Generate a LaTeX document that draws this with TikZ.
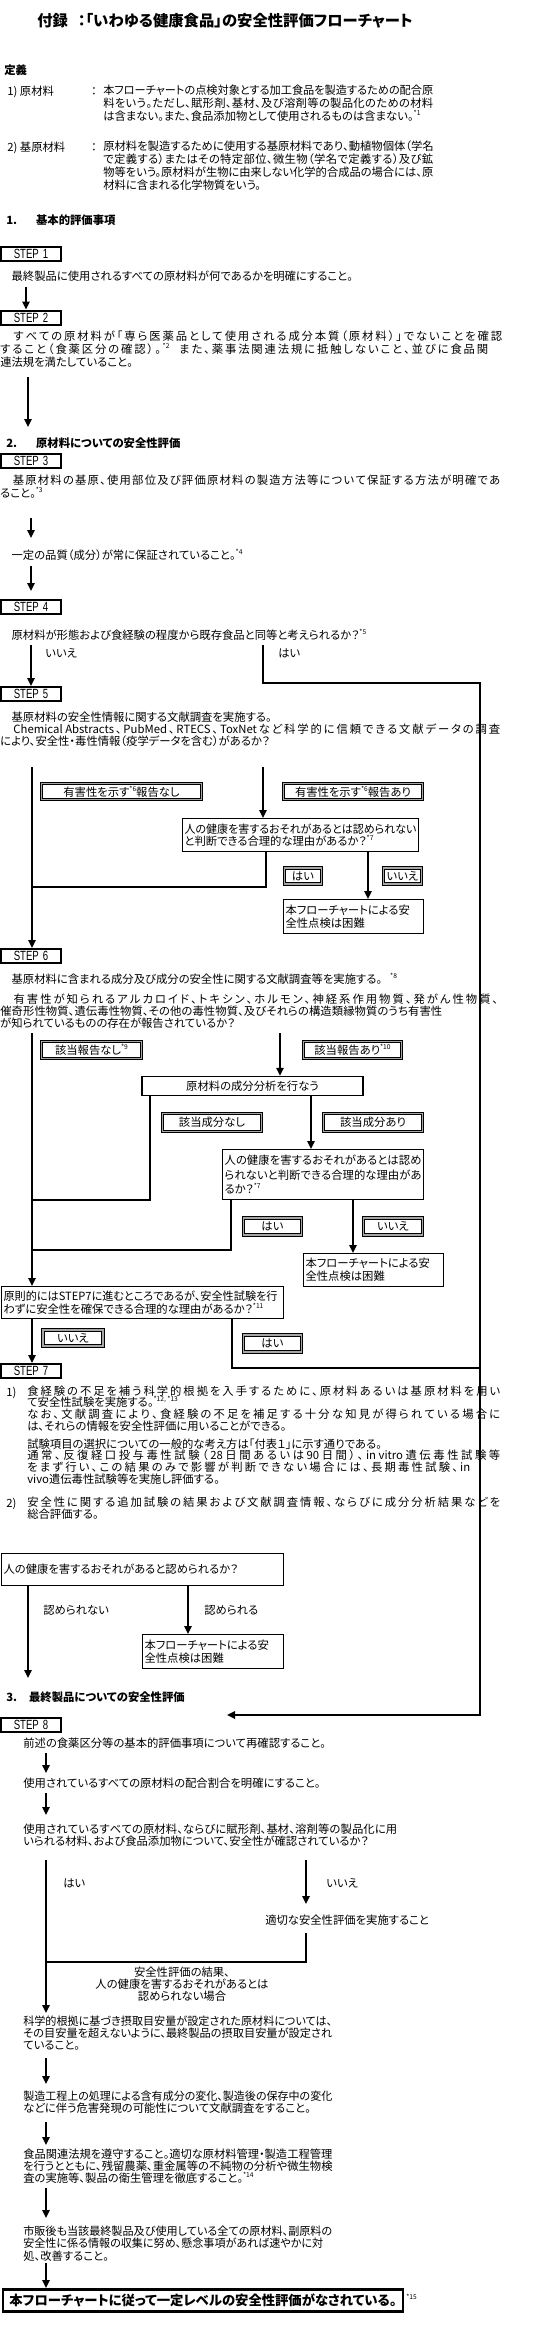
\documentclass[tikz,border=0pt]{standalone}
\usepackage{fontspec}
\usepackage{graphicx}
\setmainfont{Noto Sans CJK JP}[RawFeature=+palt]
\newfontfamily\stepfont{Liberation Sans}[FakeStretch=0.72]
\usepackage{tikz}
\usetikzlibrary{arrows.meta,positioning,shadows}
\newdimen\pxu \pxu=0.75pt
\newcommand\pu{0.75pt}
\newlength\jlw
\newcommand\topstrut{\rule{0pt}{11\pxu}}
\newcommand\fsz[1]{\fontsize{8.5}{#1}\selectfont}
\newcommand\fn[1]{\raisebox{0.45em}{\fontsize{5}{5}\selectfont *#1}}
\ExplSyntaxOn
\NewDocumentCommand\jl{mm}{\leavevmode
  \settowidth\jlw{#2}
  \ifdim\jlw>#1\pxu~\resizebox{#1\pxu}{\height}{#2}
  \else~\hbox~to~#1\pxu{\tl_map_inline:nn{#2}{##1\hskip~0pt~plus~1fil}\unskip}\fi}
\ExplSyntaxOff
\lineskiplimit=-20pt

\begin{document}
\begin{tikzpicture}[x=0.75pt, y=-0.75pt,
  txt/.style={anchor=north west, yshift=5pt, inner sep=0pt, align=left,
    font=\fsz{9.4pt}, execute at begin node=\topstrut},
  hdg/.style={txt, font=\fsz{9.4pt}\bfseries},
  stepbox/.style={draw, line width=1.5pt, fill=white, minimum width=60*\pu,
    minimum height=14*\pu, inner sep=0pt, font=\stepfont\fontsize{10}{10}\selectfont,
    drop shadow={shadow xshift=1pt, shadow yshift=-1pt, fill=black!45, opacity=1}},
  lbl/.style={draw, line width=0.6pt, double=black!35, double distance=1.1pt,
    minimum height=16*\pu, inner sep=0pt, font=\fsz{9pt}},
  qbox/.style={draw, line width=0.8pt, anchor=north west, align=left,
    inner xsep=2*\pu, inner ysep=0pt, font=\fsz{10pt}},
  ln/.style={line width=1.6pt},
  arr/.style={ln, -{Triangle[width=5.5pt,length=6pt]}}
]
\useasboundingbox (0,0) rectangle (540,2326);

\node[txt, font=\fontsize{11.5}{12}\selectfont\bfseries] (title) at (37,20)
  {付録\hspace{10\pxu}：「いわゆる健康食品」の安全性評価フローチャート};
\node[hdg] (defs) at (4,70) {定義};
\node[txt] (d1no) at (7,91) {1) 原材料};
\node[txt] (d1c) at (91,91) {：};
\node[txt, font=\fsz{9.75pt}] (d1) at (103,91)
  {\jl{330}{本フローチャートの点検対象とする加工食品を製造するための配合原}\\
   \jl{330}{料をいう。ただし、賦形剤、基材、及び溶剤等の製品化のための材料}\\
   は含まない。また、食品添加物として使用されるものは含まない。\fn{1}};
\node[txt] (d2no) at (7,147) {2) 基原材料};
\node[txt] (d2c) at (91,147) {：};
\node[txt, font=\fsz{9.75pt}] (d2) at (103,147)
  {\jl{330}{原材料を製造するために使用する基原材料であり、動植物個体（学名}\\
   \jl{330}{で定義する）またはその特定部位、微生物（学名で定義する）及び鉱}\\
   \jl{330}{物等をいう。原材料が生物に由来しない化学的合成品の場合には、原}\\
   材料に含まれる化学物質をいう。};

\node[hdg] (sec1) at (6,220) {1.\hspace{19\pxu}基本的評価事項};
\node[stepbox] (s1) at (31,254) {STEP\hspace{4\pxu}1};
\node[txt] (t1) at (0,276) {　最終製品に使用されるすべての原材料が何であるかを明確にすること。};
\node[stepbox] (s2) at (31,317.5) {STEP\hspace{4\pxu}2};
\coordinate (a1) at (26,287);
\draw[arr] (a1) -- (a1 |- s2.north);
\node[txt, font=\fsz{10pt}] (t2) at (0,337)
  {\jl{502}{　すべての原材料が「専ら医薬品として使用される成分本質（原材料）」でないことを確認}\\
   \jl{488}{すること（食薬区分の確認）。{\fn{2}}{\hspace{6\pxu}}また、薬事法関連法規に抵触しないこと、並びに食品関}\\
   連法規を満たしていること。};
\coordinate (a2) at (28,377);
\coordinate (a2e) at (28,427);
\draw[arr] (a2) -- (a2e);

\node[hdg] (sec2) at (6,443) {2.\hspace{19\pxu}原材料についての安全性評価};
\node[stepbox] (s3) at (31,460.5) {STEP\hspace{4\pxu}3};
\node[txt, font=\fsz{9.75pt}] (t3) at (0,481)
  {\jl{500}{　基原材料の基原、使用部位及び評価原材料の製造方法等について保証する方法が明確であ}\\
   ること。\fn{3}};
\coordinate (a3) at (31,518);
\coordinate (a3e) at (31,538);
\draw[arr] (a3) -- (a3e);
\node[txt] (t3b) at (0,555) {　一定の品質（成分）が常に保証されていること。\fn{4}};
\coordinate (a4) at (31,566);
\coordinate (a4e) at (31,591);
\draw[arr] (a4) -- (a4e);

\node[stepbox] (s4) at (31,606.5) {STEP\hspace{4\pxu}4};
\node[txt] (t4) at (0,635) {　原材料が形態および食経験の程度から既存食品と同等と考えられるか？\fn{5}};
\node[stepbox] (s5) at (31,694) {STEP\hspace{4\pxu}5};
\coordinate (a5) at (31,645);
\draw[arr] (a5) -- (a5 |- s5.north);
\node[txt] (no4) at (45,653) {いいえ};
\node[txt] (yes4) at (278,653) {はい};
\coordinate (b1) at (263,645);
\coordinate (b2) at (480,683);
\coordinate (b3) at (227,1715);
\draw[arr] (b1) |- (b2) |- (b3);

\node[txt, font=\fsz{9pt}] (t5) at (0,718)
  {　基原材料の安全性情報に関する文献調査を実施する。\\
   \jl{500}{　{Chemical Abstracts}、{PubMed}、{RTECS}、{ToxNet}など科学的に信頼できる文献データの調査}\\
   により、安全性・毒性情報（疫学データを含む）があるか？};
\node[lbl, minimum width=160*\pu] (rep0) at (121.5,791.5) {有害性を示す\fn{6}報告なし};
\node[lbl, minimum width=139*\pu] (rep1) at (353,791.5) {有害性を示す\fn{6}報告あり};
\node[qbox, minimum width=236*\pu, minimum height=33*\pu, text width=232*\pu, font=\fsz{9pt}] (q1) at (182,818)
  {\jl{232}{人の健康を害するおそれがあるとは認められない}\\と判断できる合理的な理由があるか？\fn{7}};
\coordinate (c1) at (32,767);
\coordinate (c2) at (263,767);
\draw[arr] (c2) -- (c2 |- q1.north);
\node[lbl, minimum width=37*\pu] (q1y) at (303,876) {はい};
\node[lbl, minimum width=38*\pu] (q1n) at (402.5,876) {いいえ};
\node[qbox, minimum width=140*\pu, minimum height=34*\pu, text width=136*\pu] (stop1) at (283,899)
  {本フローチャートによる安\\全性点検は困難};
\coordinate (c3) at (266,887);
\draw[ln] (c3 |- q1.south) |- (c1 |- c3);
\coordinate (c4) at (368,0);
\draw[arr] (c4 |- q1.south) -- (c4 |- stop1.north);

\node[stepbox] (s6) at (31,956) {STEP\hspace{4\pxu}6};
\draw[arr] (c1) -- (c1 |- s6.north);
\node[txt] (t6) at (0,979) {　基原材料に含まれる成分及び成分の安全性に関する文献調査等を実施する。\hspace{8\pxu}\fn{8}};
\node[txt, font=\fsz{9pt}] (t6b) at (0,1000)
  {\jl{498}{　有害性が知られるアルカロイド、トキシン、ホルモン、神経系作用物質、発がん性物質、}\\
   \jl{442}{催奇形性物質、遺伝毒性物質、その他の毒性物質、及びそれらの構造類縁物質のうち有害性}\\
   が知られているものの存在が報告されているか？};
\node[lbl, minimum width=100*\pu, minimum height=17*\pu] (hit0) at (91.5,1050) {該当報告なし\fn{9}};
\node[lbl, minimum width=98*\pu, minimum height=17*\pu] (hit1) at (352.5,1050) {該当報告あり\fn{10}};
\node[draw, line width=0.8pt, minimum width=221*\pu, minimum height=18*\pu, font=\fsz{9pt}] (anal) at (252.5,1086)
  {原材料の成分分析を行なう};
\coordinate (e1) at (32,1033);
\coordinate (e2) at (280,1033);
\draw[arr] (e2) -- (e2 |- anal.north);
\node[lbl, minimum width=99*\pu, minimum height=18*\pu] (cmp0) at (212,1122.5) {該当成分なし};
\node[lbl, minimum width=99*\pu, minimum height=18*\pu] (cmp1) at (373,1122.5) {該当成分あり};
\node[qbox, minimum width=201*\pu, minimum height=50*\pu, text width=197*\pu, font=\fsz{10.9pt}] (q2) at (222,1149)
  {\jl{197}{人の健康を害するおそれがあるとは認め}\\\jl{197}{られないと判断できる合理的な理由があ}\\るか？\fn{7}};
\coordinate (e3) at (150,1200);
\draw[ln] (e3 |- anal.south) |- (e1 |- e3);
\coordinate (e4) at (311,0);
\draw[arr] (e4 |- anal.south) -- (e4 |- q2.north);
\node[lbl, minimum width=58*\pu, minimum height=17*\pu] (q2y) at (272.5,1226.5) {はい};
\node[lbl, minimum width=59*\pu, minimum height=17*\pu] (q2n) at (393,1226.5) {いいえ};
\node[qbox, minimum width=140*\pu, minimum height=33*\pu, text width=136*\pu] (stop2) at (303,1253)
  {本フローチャートによる安\\全性点検は困難};
\coordinate (e5) at (231,1250);
\draw[ln] (e5 |- q2.south) |- (e1 |- e5);
\coordinate (e6) at (353,0);
\draw[arr] (e6 |- q2.south) -- (e6 |- stop2.north);

\node[qbox, minimum width=282*\pu, minimum height=32*\pu, text width=278*\pu] (q3) at (1,1286)
  {\jl{274}{原則的には{STEP7}に進むところであるが、安全性試験を行}\\わずに安全性を確保できる合理的な理由があるか？\fn{11}};
\draw[arr] (e1) -- (e1 |- q3.north);
\node[lbl, minimum width=60*\pu, minimum height=16*\pu] (q3n) at (73,1338) {いいえ};
\node[lbl, minimum width=58*\pu, minimum height=17*\pu] (q3y) at (272.5,1343.5) {はい};
\node[stepbox] (s7) at (31,1371) {STEP\hspace{4\pxu}7};
\coordinate (f1) at (32,0);
\draw[arr] (f1 |- q3.south) -- (f1 |- s7.north);
\coordinate (f2) at (232,1368);
\draw[ln] (f2 |- q3.south) |- (b2 |- f2);

\node[txt] (n71) at (6,1392) {1)};
\node[txt, font=\fsz{8.8pt}] (t71) at (27,1392)
  {\jl{473}{食経験の不足を補う科学的根拠を入手するために、原材料あるいは基原材料を用い}\\
   て安全性試験を実施する。\fn{12, *13}\\
   \jl{473}{なお、文献調査により、食経験の不足を補足する十分な知見が得られている場合に}\\
   は、それらの情報を安全性評価に用いることができる。};
\node[txt, font=\fsz{8.8pt}] (t72) at (27,1445)
  {試験項目の選択についての一般的な考え方は「付表１」に示す通りである。\\
   \jl{473}{通常、反復経口投与毒性試験（{28}日間あるいは{90}日間）、{in vitro}遺伝毒性試験等}\\
   \jl{443}{をまず行い、この結果のみで影響が判断できない場合には、長期毒性試験、{in}}\\
   vivo遺伝毒性試験等を実施し評価する。};
\node[txt] (n72) at (6,1503) {2)};
\node[txt, font=\fsz{9pt}] (t73) at (27,1503)
  {\jl{473}{安全性に関する追加試験の結果および文献調査情報、ならびに成分分析結果などを}\\
   総合評価する。};

\node[qbox, minimum width=282*\pu, minimum height=32*\pu, text width=278*\pu] (q4) at (1,1553)
  {人の健康を害するおそれがあると認められるか？};
\coordinate (g1) at (28,1678);
\draw[arr] (g1 |- q4.south) -- (g1);
\node[txt] (q4n) at (43,1610) {認められない};
\node[txt] (q4y) at (204,1610) {認められる};
\node[qbox, minimum width=141*\pu, minimum height=34*\pu, text width=137*\pu] (stop3) at (142,1634)
  {本フローチャートによる安\\全性点検は困難};
\coordinate (g2) at (188,0);
\draw[arr] (g2 |- q4.south) -- (g2 |- stop3.north);

\node[hdg] (sec3) at (6,1697) {3.\hspace{12\pxu}最終製品についての安全性評価};
\node[stepbox] (s8) at (31,1724.5) {STEP\hspace{4\pxu}8};
\node[txt] (t81) at (23,1743) {前述の食薬区分等の基本的評価事項について再確認すること。};
\coordinate (h1) at (46,1753);
\coordinate (h1e) at (46,1773);
\draw[arr] (h1) -- (h1e);
\node[txt] (t82) at (23,1783) {使用されているすべての原材料の配合割合を明確にすること。};
\coordinate (h2) at (46,1793);
\coordinate (h2e) at (46,1815);
\draw[arr] (h2) -- (h2e);
\node[txt, font=\fsz{9pt}] (t83) at (23,1830)
  {\jl{374}{使用されているすべての原材料、ならびに賦形剤、基材、溶剤等の製品化に用}\\
   いられる材料、および食品添加物について、安全性が確認されているか？};
\node[txt] (yes8) at (63,1883) {はい};
\node[txt] (no8) at (326,1883) {いいえ};
\node[txt] (t84) at (265,1920) {適切な安全性評価を実施すること};
\coordinate (h3) at (306,1860);
\draw[arr] (h3) -- ([yshift=7pt]h3 |- t84.north);
\coordinate (h4) at (46,1962);
\draw[ln] (h3 |- 0,1933) |- (h4);
\node[txt, anchor=north, align=center, font=\fsz{9pt}] (note8) at (182,1973)
  {安全性評価の結果、\\人の健康を害するおそれがあるとは\\認められない場合};
\coordinate (h5) at (46,1860);
\coordinate (h5e) at (46,2013);
\draw[arr] (h5) -- (h5e);
\node[txt, font=\fsz{9pt}] (t85) at (23,2022)
  {\jl{309}{科学的根拠に基づき摂取目安量が設定された原材料については、}\\
   \jl{309}{その目安量を超えないように、最終製品の摂取目安量が設定され}\\
   ていること。};
\coordinate (h6) at (46,2058);
\coordinate (h6e) at (46,2084);
\draw[arr] (h6) -- (h6e);
\node[txt, font=\fsz{9pt}] (t86) at (23,2097)
  {\jl{309}{製造工程上の処理による含有成分の変化、製造後の保存中の変化}\\
   などに伴う危害発現の可能性について文献調査をすること。};
\coordinate (h7) at (46,2122);
\coordinate (h7e) at (46,2145);
\draw[arr] (h7) -- (h7e);
\node[txt, font=\fsz{9pt}] (t87) at (23,2155)
  {\jl{309}{食品関連法規を遵守すること。適切な原材料管理・製造工程管理}\\
   \jl{309}{を行うとともに、残留農薬、重金属等の不純物の分析や微生物検}\\
   査の実施等、製品の衛生管理を徹底すること。\fn{14}};
\coordinate (h8) at (46,2188);
\coordinate (h8e) at (46,2218);
\draw[arr] (h8) -- (h8e);
\node[txt, font=\fsz{9.4pt}] (t88) at (23,2232)
  {\jl{309}{市販後も当該最終製品及び使用している全ての原材料、副原料の}\\
   \jl{300}{安全性に係る情報の収集に努め、懸念事項があれば速やかに対}\\
   処、改善すること。};
\node[draw, line width=2.2pt, minimum width=400*\pu, minimum height=21*\pu,
  font=\fontsize{10}{10}\selectfont\bfseries] (fin) at (203,2300.5)
  {本フローチャートに従って一定レベルの安全性評価がなされている。};
\coordinate (h9) at (46,2263);
\draw[arr] (h9) -- (h9 |- fin.north);
\node[anchor=west, inner sep=0pt, font=\fontsize{5}{5}\selectfont] (fn15) at (406,2297) {*15};
\end{tikzpicture}
\end{document}
